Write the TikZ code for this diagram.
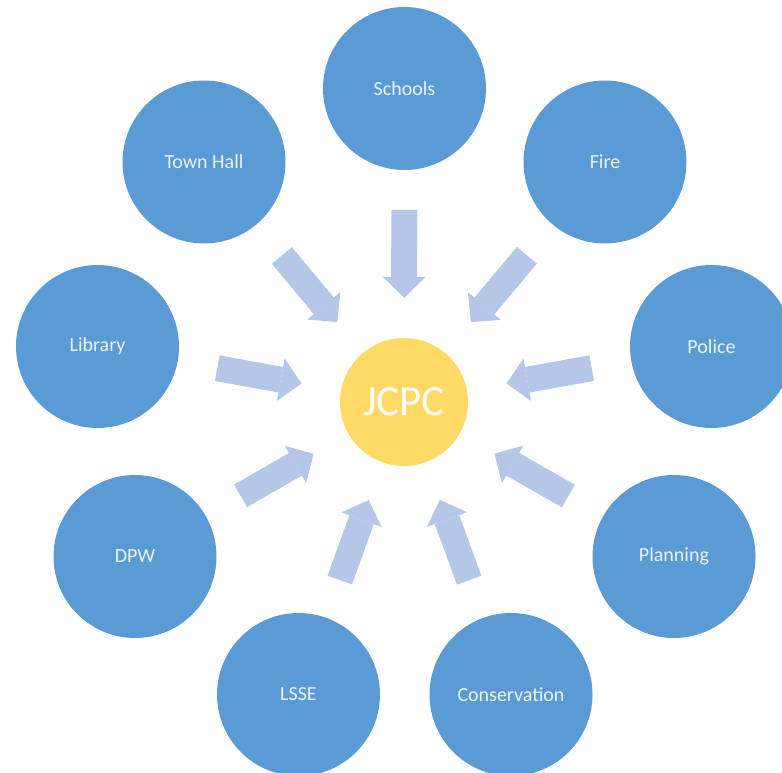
\documentclass[tikz,border=0pt]{standalone}
\usepackage{fontspec}
\setmainfont{Carlito}
\usetikzlibrary{arrows.meta,positioning}

\definecolor{deptBlue}{RGB}{91,155,213}
\definecolor{arrowBlue}{RGB}{180,199,231}
\definecolor{hubYellow}{RGB}{255,217,102}
\definecolor{labelWhite}{RGB}{236,243,251}

\begin{document}
\begin{tikzpicture}[x=1pt, y=-1pt,
		deptVertex/.style={
				shape=circle, fill=deptBlue,
				minimum size=163pt, inner sep=0pt,
				text=labelWhite, font=\fontsize{20}{24}\selectfont
			},
		hubVertex/.style={
				shape=circle, fill=hubYellow,
				minimum size=128pt, inner sep=0pt,
				text=white, font=\fontsize{43}{50}\selectfont
			},
		feedarrow/.style={
				draw=arrowBlue, line width=26pt,
				-{Triangle[width=43pt, length=21pt, line width=0pt]},
				shorten <=40pt, shorten >=40pt
			}
	]

	\clip (0,0) rectangle (782,773);

	% hub in the middle
	\node[hubVertex] (jcpc) at (404,402) {JCPC};

	% departments round it
	\node[deptVertex] (schools) at (404.5,88.5) {Schools};
	\node[deptVertex] (fire) at (605,162) {Fire};
	\node[deptVertex] (police) at (711.5,346.5) {Police};
	\node[deptVertex] (planning) at (674,556.5) {Planning};
	\node[deptVertex] (conservation) at (511,694.5) {Conservation};
	\node[deptVertex] (lsse) at (298.5,694.5) {LSSE};
	\node[deptVertex] (dpw) at (135,556.5) {DPW};
	\node[deptVertex] (library) at (97.5,346.5) {Library};
	\node[deptVertex] (townhall) at (204,162) {Town Hall};

	% arrows into the hub
	\draw[feedarrow] (schools) -- (jcpc);
	\draw[feedarrow] (fire) -- (jcpc);
	\draw[feedarrow] (police) -- (jcpc);
	\draw[feedarrow] (planning) -- (jcpc);
	\draw[feedarrow] (conservation) -- (jcpc);
	\draw[feedarrow] (lsse) -- (jcpc);
	\draw[feedarrow] (dpw) -- (jcpc);
	\draw[feedarrow] (library) -- (jcpc);
	\draw[feedarrow] (townhall) -- (jcpc);
\end{tikzpicture}
\end{document}
